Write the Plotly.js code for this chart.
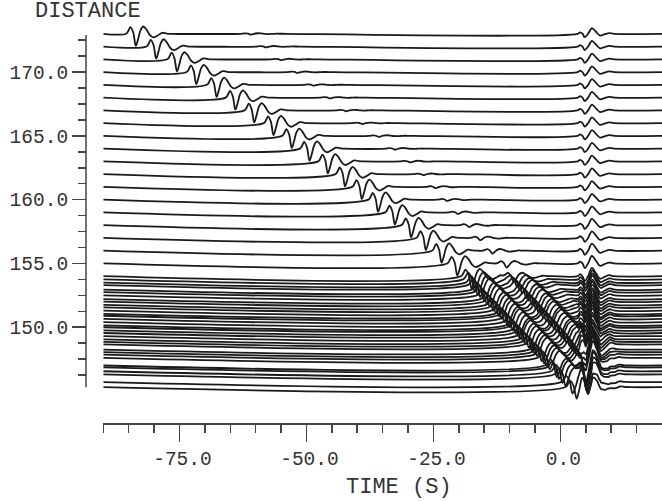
<!DOCTYPE html>
<html><head><meta charset="utf-8">
<script src="https://cdn.plot.ly/plotly-3.0.1.min.js"></script>
<style>html,body{margin:0;padding:0;background:#fff;} #chart{width:662px;height:501px;}</style>
</head><body><div id="chart"></div>
<script>
// Trace distances (record section)
const distances = [173,172,171,170,169,168,167,166,165,164,163,162,161,160,159,158,157,156,155,154,
  153.75,153.5,153.3,152.95,152.75,152.5,152.2,152.0,151.75,151.55,151.3,151.05,150.9,150.65,150.4,150.15,150.0,
  149.75,149.55,149.3,149.05,148.85,148.65,148.25,148.05,147.85,147.6,147.0,146.85,146.55,146.3,145.7,145.3];
// Phase A (main sloping arrival), trough time (s) and amplitude (distance units)
const arrivalA = [-83.6,-79.6,-75.5,-71.7,-67.7,-64.0,-60.3,-56.5,-52.9,-49.4,-45.8,-42.4,-39.1,-35.9,-32.6,-29.4,-26.5,-23.4,-20.3,-17.5,
  -16.9,-16.3,-15.8,-15.0,-14.5,-13.9,-13.2,-12.7,-12.1,-11.6,-11.0,-10.4,-10.0,-9.4,-8.8,-8.2,-7.9,
  -7.3,-6.8,-6.2,-5.6,-5.1,-4.6,-3.7,-3.2,-2.7,-2.1,-0.7,-0.3,0.4,1.0,2.4,3.2];
const ampA = [0.95,0.95,0.95,0.95,0.95,0.95,0.95,0.95,0.95,0.95,0.95,0.95,0.95,0.95,0.95,0.95,0.95,0.95,0.95,0.95,
  0.95,0.95,0.92,0.92,0.9,0.9,0.9,0.9,0.9,0.9,0.9,0.9,0.9,0.9,0.9,0.9,0.9,
  0.9,0.9,0.9,0.9,0.9,0.9,0.9,0.9,0.9,0.9,0.9,0.9,0.9,0.9,0.9,0.9];
// Phase B (second sloping arrival)
const arrivalB = [-61,-58,-55,-51.8,-48.6,-45.4,-42.2,-39,-35.8,-32.6,-29.6,-27,-24.6,-22.3,-20.2,-18.0,-15.8,-13.4,-10.6,-9.2,
  -8.6,-8.0,-7.5,-6.7,-6.2,-5.6,-4.9,-4.4,-3.8,-3.4,-2.8,-2.2,-1.9,-1.3,-0.7,-0.1,0.2,
  0.8,1.2,1.8,2.3,2.7,3.1,3.8,4.1,4.4,4.6,5.0,5.1,5.2,5.3,5.4,5.5];
const ampB = [0.07,0.07,0.07,0.07,0.07,0.07,0.07,0.07,0.08,0.08,0.08,0.08,0.1,0.1,0.12,0.15,0.18,0.22,0.32,0.45,
  0.55,0.6,0.65,0.7,0.7,0.75,0.75,0.8,0.8,0.8,0.8,0.8,0.8,0.8,0.8,0.8,0.8,
  0.8,0.8,0.8,0.8,0.8,0.8,0.8,0.8,0.8,0.8,0.8,0.8,0.8,0.8,0.8,0.8];
// Apparent period stretch of phases A and B on each trace
const periodAB = [1,1,1,1,1,1,1,1,1,1,1,1,1,1,1,1,1,1,1.05,1.1,
  1.2,1.25,1.3,1.3,1.35,1.35,1.35,1.35,1.35,1.35,1.35,1.35,1.35,1.35,1.35,1.35,1.35,
  1.35,1.35,1.35,1.35,1.35,1.35,1.3,1.3,1.3,1.3,1.25,1.25,1.2,1.2,1.2,1.2];
// Phase C (arrival near +5 s)
const arrivalC = [4.8,4.8,4.8,4.8,4.8,4.8,4.8,4.8,4.8,4.8,4.8,4.8,4.8,4.8,4.8,4.8,4.8,4.8,4.8,4.8,
  4.9,4.9,4.9,4.9,4.9,4.9,4.9,4.9,4.9,4.9,4.9,4.9,4.9,4.9,4.9,4.9,4.9,
  4.9,4.9,4.9,5.0,5.0,5.0,5.0,5.0,5.0,5.0,5.0,5.0,5.0,5.0,5.0,5.0];
const ampC = [0.45,0.45,0.45,0.45,0.45,0.45,0.45,0.45,0.45,0.45,0.45,0.45,0.45,0.45,0.48,0.5,0.52,0.55,0.6,0.65,
  0.7,0.72,0.75,0.78,0.8,0.82,0.85,0.88,0.9,0.9,0.92,0.95,0.95,0.98,1.0,1.0,1.0,
  1.0,1.0,1.0,1.0,1.0,1.0,0.95,0.95,0.9,0.9,0.85,0.85,0.8,0.8,0.8,0.8];
// Wavelet shapes (time offset s, normalised amplitude)
const waveletA_t = [-1.9,-1.4,-1.05,-0.5,0,0.45,0.95,1.5,2.1,2.8,3.5,4.3,5.2,6.1,7.0];
const waveletA_v = [0,0.3,0.55,0.1,-1,-0.45,0.3,0.6,0.35,-0.12,-0.3,-0.14,0.08,0.02,0];
const waveletC_t = [-1.4,-0.95,-0.45,0,0.65,1.4,2.2,3.0,3.9,4.8,5.8];
const waveletC_v = [0,0.25,0,-0.6,0,1,0.35,-0.3,-0.08,0.12,0];
const traceStart = -90, traceEnd = 20;
// Axis ticks
const xMajorTicks = [-75,-50,-25,0];
const xMajorLabels = ['-75.0','-50.0','-25.0','0.0'];
const xMinorTicks = [-90,-85,-80,-70,-65,-60,-55,-45,-40,-35,-30,-20,-15,-10,-5,5,10,15];
const yMajorTicks = [150,155,160,165,170];
const yMajorLabels = ['150.0','155.0','160.0','165.0','170.0'];
const yMinorTicks = [146.25,147.5,148.75,151.25,152.5,153.75,156.25,157.5,158.75,161.25,162.5,163.75,166.25,167.5,168.75,171.25,172.5];

function shapeAt(ts, vs, tau){
  if (tau <= ts[0] || tau >= ts[ts.length-1]) return 0;
  for (let k = 1; k < ts.length; k++){
    if (tau <= ts[k]){
      const f = (tau - ts[k-1]) / (ts[k] - ts[k-1]);
      return vs[k-1] + f * (vs[k] - vs[k-1]);
    }
  }
  return 0;
}

const data = distances.map((d, i) => {
  const p = periodAB[i];
  const stretchedA = waveletA_t.map(s => s * p);
  const ev = [
    [arrivalA[i], ampA[i], stretchedA, waveletA_v],
    [arrivalB[i], ampB[i], stretchedA, waveletA_v],
    [arrivalC[i], ampC[i], waveletC_t, waveletC_v]
  ];
  const times = [traceStart, traceEnd];
  ev.forEach(([t0, a, ts]) => ts.forEach(s => { const t = t0 + s; if (t > traceStart && t < traceEnd) times.push(t); }));
  times.sort((a, b) => a - b);
  const xs = [], ys = [];
  times.forEach(t => {
    if (xs.length && Math.abs(t - xs[xs.length-1]) < 0.05) return;
    let y = d;
    ev.forEach(([t0, a, ts, vs]) => { y += a * shapeAt(ts, vs, t - t0); });
    xs.push(t); ys.push(y);
  });
  return {type:'scatter', mode:'lines', x:xs, y:ys,
    line:{color:'#1a1a1a', width:1.8, shape:'spline', smoothing:1},
    hoverinfo:'skip', showlegend:false};
});

const axColor = '#444';
const tickFont = {family:'Liberation Mono, Courier New, monospace', size:19.5, color:'#333'};
const layout = {
  width:662, height:501,
  margin:{l:86, r:0, t:20, b:78.3, pad:0},
  paper_bgcolor:'#fff', plot_bgcolor:'#fff',
  showlegend:false,
  xaxis:{domain:[0.03,1], range:[traceStart, traceEnd], anchor:'free', position:0,
    showgrid:false, zeroline:false, showline:true, linecolor:axColor, linewidth:1.5,
    ticks:'outside', ticklen:17, tickwidth:1.5, tickcolor:axColor,
    tickmode:'array', tickvals:xMajorTicks, ticktext:xMajorLabels, tickfont:tickFont, ticklabelshift:3,
    minor:{tickmode:'array', tickvals:xMinorTicks, ticks:'outside', ticklen:8, tickwidth:1.5, tickcolor:axColor, showgrid:false}},
  yaxis:{domain:[0.0315,1], range:[143.49,174.08], anchor:'free', position:0,
    showgrid:false, zeroline:false, showline:false,
    ticks:'outside', ticklen:14, tickwidth:1.5, tickcolor:axColor,
    tickmode:'array', tickvals:yMajorTicks, ticktext:yMajorLabels, tickfont:tickFont,
    minor:{tickmode:'array', tickvals:yMinorTicks, ticks:'outside', ticklen:8, tickwidth:1.5, tickcolor:axColor, showgrid:false}},
  shapes:[{type:'line', xref:'paper', yref:'y', x0:0, x1:0, y0:145.3, y1:172.9, line:{color:axColor, width:1.5}}],
  annotations:[
    {text:'DISTANCE', xref:'paper', yref:'paper', x:-0.092, y:1.02, xanchor:'left', yanchor:'middle', showarrow:false,
     font:{family:'Liberation Mono, Courier New, monospace', size:22, color:'#333'}},
    {text:'TIME (S)', xref:'paper', yref:'paper', x:0.5434, y:-0.1597, xanchor:'center', yanchor:'middle', showarrow:false,
     font:{family:'Liberation Mono, Courier New, monospace', size:22, color:'#333'}}
  ]
};
Plotly.newPlot('chart', data, layout, {displayModeBar:false, staticPlot:true});
</script></body></html>
